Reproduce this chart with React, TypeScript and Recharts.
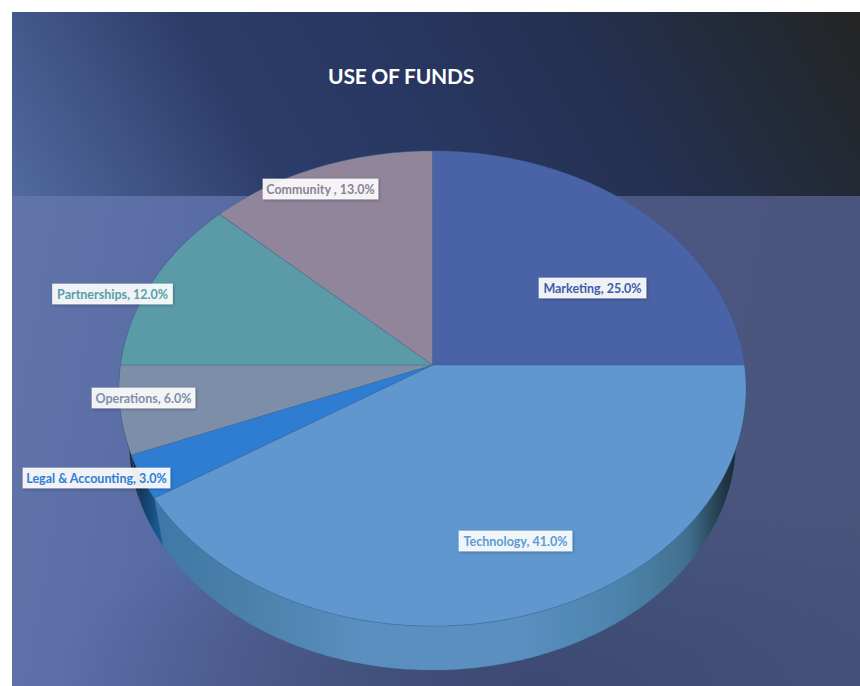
import { Pie, PieChart } from "recharts";

const categories = ["Marketing", "Technology", "Legal & Accounting", "Operations", "Partnerships", "Community "];
const shares = [25, 41, 3, 6, 12, 13];
const topColors = ["#4a63a6", "#5f97ce", "#2f7dd2", "#7d8ea8", "#5b9ba8", "#91859b"];
const wallColors = ["#2d4a7c", "url(#techWall)", "url(#legalWall)", "#1f2a3c", "#27505a", "#4a4452"];
const labelColors = ["#3f5da8", "#5b9bd5", "#2f7dd2", "#7f8fa9", "#58a0a8", "#8f8098"];

// label box centre relative to the pie hub, and box width
const labelOffsets = [
  [160, -77],
  [83, 176],
  [-336, 113],
  [-289, 33],
  [-320, -71],
  [-112, -176],
];
const labelWidths = [107, 113, 147, 103, 120, 115];

const topRows = categories.map((name, i) => ({ name, value: shares[i], fill: topColors[i] }));
const wallRows = categories.map((name, i) => ({ name, value: shares[i], fill: wallColors[i] }));

const HUB_X = 432.5;
const HUB_Y = 365;
const RADIUS = 312;
const TILT = 0.754;
const PERSPECTIVE = 0.099;
const WALL_SCALE = 0.968;
const WALL_DROP = 52.4;

// flat pie angle -> point on the tilted disc
function project(cx: number, cy: number, r: number, deg: number, scale = 1, drop = 0) {
  const a = (deg * Math.PI) / 180;
  const u = Math.cos(a);
  const v = -Math.sin(a);
  const d = 1 - PERSPECTIVE * v;
  return [cx + (scale * r * u) / d, cy + drop + (scale * r * TILT * v) / d];
}

function arcPoints(p: any, scale = 1, drop = 0) {
  const pts = [];
  const steps = Math.max(2, Math.ceil(Math.abs(p.endAngle - p.startAngle)));
  for (let i = 0; i <= steps; i++) {
    const deg = p.startAngle + ((p.endAngle - p.startAngle) * i) / steps;
    pts.push(project(p.cx, p.cy, p.outerRadius, deg, scale, drop));
  }
  return pts;
}

const toPath = (pts: number[][]) => "M" + pts.map((q) => q[0].toFixed(1) + "," + q[1].toFixed(1)).join("L") + "Z";

function TopFace(p: any) {
  return (
    <path
      d={toPath([[p.cx, p.cy], ...arcPoints(p)])}
      fill={p.fill}
      stroke="#35608f"
      strokeOpacity={0.45}
      strokeWidth={0.8}
    />
  );
}

function WallFace(p: any) {
  const upper = arcPoints(p);
  const lower = arcPoints(p, WALL_SCALE, WALL_DROP).reverse();
  return <path d={toPath([...upper, ...lower])} fill={p.fill} stroke="#3a6f9c" strokeOpacity={0.35} strokeWidth={0.5} />;
}

function SliceLabel(p: any) {
  const i = p.index;
  const [dx, dy] = labelOffsets[i];
  const w = labelWidths[i];
  const x = HUB_X + dx;
  const y = HUB_Y + dy;
  return (
    <g>
      <rect
        x={x - w / 2}
        y={y - 10}
        width={w}
        height={20}
        fill="#ffffff"
        fillOpacity={0.9}
        stroke="#ffffff"
        strokeOpacity={0.6}
        filter="url(#labelShadow)"
      />
      <text
        x={x}
        y={y + 4.8}
        textAnchor="middle"
        fontFamily="Lato, sans-serif"
        fontWeight={700}
        fontSize={12.5}
        fill={labelColors[i]}
      >
        {categories[i] + ", " + shares[i].toFixed(1) + "%"}
      </text>
    </g>
  );
}

export default function App() {
  return (
    <div style={{ position: "absolute", left: 0, top: 0, width: 860, height: 686, background: "#ffffff", overflow: "hidden" }}>
      <div
        style={{
          position: "absolute",
          left: 12,
          top: 12,
          width: 848,
          height: 184,
          background: "linear-gradient(60deg, #526aa0 0%, #2c3c69 29%, #283760 50%, #24304f 70%, #23282f 92%, #242424 100%)",
        }}
      />
      <div
        style={{
          position: "absolute",
          left: 12,
          top: 196,
          width: 848,
          height: 490,
          background:
            "radial-gradient(ellipse 480px 210px at 62% 100%, rgba(58,72,114,0.95), rgba(58,72,114,0)), linear-gradient(100deg, #6175aa 0%, #586aa4 25%, #4c5883 60%, #48547a 100%)",
        }}
      />
      <div
        style={{
          position: "absolute",
          left: 300,
          top: 62,
          width: 202,
          textAlign: "center",
          whiteSpace: "nowrap",
          color: "#ffffff",
          fontFamily: "Lato, sans-serif",
          fontWeight: 700,
          fontSize: 21,
          letterSpacing: -0.25,
          lineHeight: "28px",
        }}
      >
        USE OF FUNDS
      </div>
      <div style={{ position: "absolute", left: 0, top: 0 }}>
        <PieChart width={860} height={686} margin={{ top: 0, right: 0, bottom: 0, left: 0 }}>
          <defs>
            <linearGradient id="techWall" gradientUnits="userSpaceOnUse" x1="160" y1="0" x2="740" y2="0">
              <stop offset="0%" stopColor="#3f78a8" />
              <stop offset="14%" stopColor="#4a80a8" />
              <stop offset="35%" stopColor="#5a8fc0" />
              <stop offset="62%" stopColor="#5a8fc0" />
              <stop offset="80%" stopColor="#4c83ab" />
              <stop offset="91%" stopColor="#41708f" />
              <stop offset="97%" stopColor="#22394a" />
              <stop offset="100%" stopColor="#16242e" />
            </linearGradient>
            <linearGradient id="legalWall" gradientUnits="userSpaceOnUse" x1="130" y1="0" x2="165" y2="0">
              <stop offset="0%" stopColor="#10263f" />
              <stop offset="100%" stopColor="#1c65a6" />
            </linearGradient>
            <filter id="labelShadow" x="-10%" y="-30%" width="120%" height="160%">
              <feDropShadow dx="1" dy="1" stdDeviation="1.5" floodColor="#000000" floodOpacity="0.3" />
            </filter>
          </defs>
          <Pie
            data={wallRows}
            dataKey="value"
            nameKey="name"
            cx={HUB_X}
            cy={HUB_Y}
            outerRadius={RADIUS}
            startAngle={90}
            endAngle={-270}
            shape={WallFace}
            isAnimationActive={false}
          />
          <Pie
            data={topRows}
            dataKey="value"
            nameKey="name"
            cx={HUB_X}
            cy={HUB_Y}
            outerRadius={RADIUS}
            startAngle={90}
            endAngle={-270}
            shape={TopFace}
            label={SliceLabel}
            labelLine={false}
            isAnimationActive={false}
          />
        </PieChart>
      </div>
    </div>
  );
}
